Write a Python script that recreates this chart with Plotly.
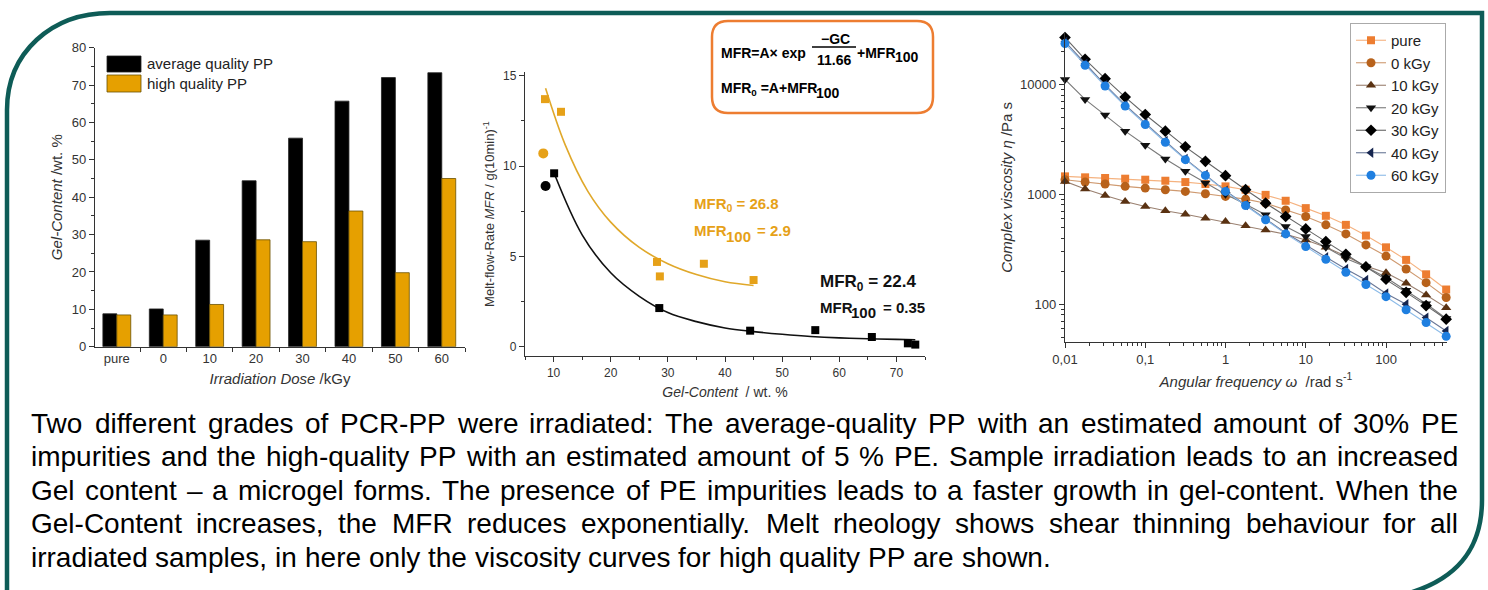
import plotly.graph_objects as go

W, H = 1488, 590
FONT = "Liberation Sans, Arial, sans-serif"

# ---------------- data ----------------
doses = ["pure", "0", "10", "20", "30", "40", "50", "60"]
gel_average = [8.8, 10.1, 28.5, 44.4, 55.8, 65.7, 72.0, 73.3]
gel_high = [8.5, 8.5, 11.3, 28.6, 28.1, 36.3, 19.8, 45.0]

mfr_avg_gc = [10.1, 28.5, 44.4, 55.8, 65.7, 72.0, 73.3]
mfr_avg = [9.6, 2.15, 0.9, 0.93, 0.55, 0.2, 0.13]
mfr_avg_pure_gc = [8.6]
mfr_avg_pure = [8.9]
mfr_high_gc = [8.5, 11.3, 28.1, 28.6, 36.3, 45.0]
mfr_high = [13.7, 13.0, 4.7, 3.9, 4.6, 3.7]
mfr_high_pure_gc = [8.2]
mfr_high_pure = [10.7]
fit_avg_gc = [10.1, 15, 20, 25, 30, 35, 40, 45, 50, 55, 60, 65, 70, 73.3]
fit_avg = [9.6, 6.2, 4.1, 2.8, 1.9, 1.4, 1.05, 0.85, 0.7, 0.58, 0.5, 0.45, 0.42, 0.4]
fit_high_gc = [8.6, 12, 16, 20, 25, 30, 35, 40, 45]
fit_high = [14.3, 11.2, 8.6, 6.9, 5.5, 4.6, 4.0, 3.6, 3.4]

freq = [0.01, 0.0178, 0.0316, 0.0562, 0.1, 0.178, 0.316, 0.562, 1, 1.78,
        3.16, 5.62, 10, 17.8, 31.6, 56.2, 100, 178, 316, 562]
visc_pure = [1455, 1426, 1406, 1386, 1357, 1328, 1291, 1239, 1180, 1100,
             988, 873, 748, 637, 527, 421, 329, 253, 187, 136]
visc_0 = [1357, 1291, 1239, 1180, 1138, 1100, 1062, 1011, 956, 904,
          830, 721, 628, 527, 436, 346, 274, 209, 157, 115]
visc_10 = [1310, 1115, 976, 860, 775, 707, 659, 606, 565, 516,
           474, 433, 384, 329, 274, 222, 193, 155, 121, 93]
visc_20 = [11100, 7300, 5250, 3750, 2795, 2095, 1617, 1265, 1000, 810,
           650, 508, 412, 329, 261, 219, 175, 134, 101, 74]
visc_30 = [26700, 16900, 11270, 7660, 5320, 3750, 2700, 1995, 1475, 1100,
           830, 628, 484, 371, 284, 219, 169, 128, 97, 73]
visc_40 = [24500, 15400, 9900, 6500, 4420, 3050, 2100, 1510, 1075, 800,
           600, 445, 345, 267, 209, 166, 125, 100, 75.5, 57]
visc_60 = [23500, 14900, 9660, 6340, 4310, 2975, 2065, 1485, 1062, 791,
           585, 436, 334, 256, 195, 151, 117, 89, 68, 51]

para_lines = [
    "Two different grades of PCR-PP were irradiated: The average-quality PP with an estimated amount of 30% PE",
    "impurities and the high-quality PP with an estimated amount of 5 % PE. Sample irradiation leads to an increased",
    "Gel content \u2013 a microgel forms. The presence of PE impurities leads to a faster growth in gel-content. When the",
    "Gel-Content increases, the MFR reduces exponentially. Melt rheology shows shear thinning behaviour for all",
    "irradiated samples, in here only the viscosity curves for high quality PP are shown.",
]

# ---------------- helpers ----------------
def X(p):
    return p / W


def Y(p):
    return 1 - p / H


HELV = {' ': 278, '!': 278, '%': 889, '(': 333, ')': 333, ',': 278, '-': 333, '.': 278,
        ':': 278, '\u2013': 556, 'A': 667, 'B': 667, 'C': 722, 'D': 722, 'E': 667, 'F': 611,
        'G': 778, 'H': 722, 'I': 278, 'J': 500, 'K': 667, 'L': 556, 'M': 833, 'N': 722,
        'O': 778, 'P': 667, 'Q': 778, 'R': 722, 'S': 667, 'T': 611, 'U': 722, 'V': 667,
        'W': 944, 'X': 667, 'Y': 667, 'Z': 611, 'a': 556, 'b': 556, 'c': 500, 'd': 556,
        'e': 556, 'f': 278, 'g': 556, 'h': 556, 'i': 222, 'j': 222, 'k': 500, 'l': 222,
        'm': 833, 'n': 556, 'o': 556, 'p': 556, 'q': 556, 'r': 333, 's': 500, 't': 278,
        'u': 556, 'v': 500, 'w': 722, 'x': 500, 'y': 500, 'z': 500}


def tw(s, size):
    return sum(HELV.get(c, 556) for c in s) * size / 1000.0


def rrect(x0, y0, x1, y1, r):
    return (f"M{X(x0+r)},{Y(y0)} L{X(x1-r)},{Y(y0)} Q{X(x1)},{Y(y0)} {X(x1)},{Y(y0+r)} "
            f"L{X(x1)},{Y(y1-r)} Q{X(x1)},{Y(y1)} {X(x1-r)},{Y(y1)} "
            f"L{X(x0+r)},{Y(y1)} Q{X(x0)},{Y(y1)} {X(x0)},{Y(y1-r)} "
            f"L{X(x0)},{Y(y0+r)} Q{X(x0)},{Y(y0)} {X(x0+r)},{Y(y0)} Z")


fig = go.Figure()

# ---------------- left: bars ----------------
fig.add_trace(go.Bar(x=doses, y=gel_average, name="average quality PP", marker_color="#000000",
                     marker_line=dict(color="#222", width=0.8), xaxis="x", yaxis="y", showlegend=False))
fig.add_trace(go.Bar(x=doses, y=gel_high, name="high quality PP", marker_color="#e6a000",
                     marker_line=dict(color="#6b5000", width=0.8), xaxis="x", yaxis="y", showlegend=False))

# ---------------- middle: MFR ----------------
ORG = "#e6a118"
fig.add_trace(go.Scatter(x=fit_high_gc, y=fit_high, mode="lines", line_shape="spline",
                         line=dict(color="#e0a82a", width=1.6), xaxis="x2", yaxis="y2", showlegend=False))
fig.add_trace(go.Scatter(x=fit_avg_gc, y=fit_avg, mode="lines", line_shape="spline",
                         line=dict(color="#111", width=1.6), xaxis="x2", yaxis="y2", showlegend=False))
fig.add_trace(go.Scatter(x=mfr_high_gc, y=mfr_high, mode="markers", marker=dict(symbol="square", size=8, color=ORG),
                         xaxis="x2", yaxis="y2", showlegend=False, cliponaxis=False))
fig.add_trace(go.Scatter(x=mfr_high_pure_gc, y=mfr_high_pure, mode="markers", marker=dict(symbol="circle", size=10, color=ORG),
                         xaxis="x2", yaxis="y2", showlegend=False, cliponaxis=False))
fig.add_trace(go.Scatter(x=mfr_avg_gc, y=mfr_avg, mode="markers", marker=dict(symbol="square", size=8, color="#000"),
                         xaxis="x2", yaxis="y2", showlegend=False, cliponaxis=False))
fig.add_trace(go.Scatter(x=mfr_avg_pure_gc, y=mfr_avg_pure, mode="markers", marker=dict(symbol="circle", size=10, color="#000"),
                         xaxis="x2", yaxis="y2", showlegend=False, cliponaxis=False))

# ---------------- right: viscosity ----------------
series = [
    ("pure", visc_pure, "square", "#ed7d31", "#f5b27f", 8),
    ("0 kGy", visc_0, "circle", "#b8621b", "#cf9a70", 9),
    ("10 kGy", visc_10, "triangle-up", "#5a3212", "#9a8070", 9),
    ("20 kGy", visc_20, "triangle-down", "#111111", "#7a7a7a", 9),
    ("30 kGy", visc_30, "diamond", "#000000", "#666666", 9),
    ("40 kGy", visc_40, "triangle-left", "#16264f", "#6a7898", 9),
    ("60 kGy", visc_60, "circle", "#1f7fe0", "#8cbbe8", 9),
]
for name, vals, sym, mc, lc, ms in series:
    fig.add_trace(go.Scatter(x=freq, y=vals, name=name, mode="lines+markers",
                             line=dict(color=lc, width=1.1),
                             marker=dict(symbol=sym, size=ms, color=mc),
                             xaxis="x3", yaxis="y3", cliponaxis=False, showlegend=True))

# ---------------- axes ----------------
AX = dict(showline=True, linecolor="#333", linewidth=1.3, ticks="outside", ticklen=5, tickwidth=1.2,
          tickcolor="#333", showgrid=False, zeroline=False, automargin=False,
          tickfont=dict(family=FONT, size=13, color="#333"))

def ax(**kw):
    d = dict(AX)
    d.update(kw)
    return d

minor_log = [m * 10 ** e for e in range(-2, 5) for m in range(2, 10)]

fig.update_layout(
    width=W, height=H, margin=dict(l=0, r=0, t=0, b=0),
    paper_bgcolor="white", plot_bgcolor="white",
    font=dict(family=FONT, color="#222"),
    barmode="group", bargap=0.4, bargroupgap=0,
    xaxis=ax(domain=[X(95), X(465)], anchor="y", type="category", range=[-0.47, 7.5],
             tickson="boundaries", ticklen=4,
             title=dict(text="<i>Irradiation Dose</i> /kGy", font=dict(family=FONT, size=15, color="#333"), standoff=8)),
    yaxis=ax(domain=[Y(346.7), Y(47.7)], anchor="x", range=[0, 80], dtick=10,
             minor=dict(ticks="outside", ticklen=3, dtick=5, tickcolor="#333"),
             title=dict(text="<i>Gel-Content</i> /wt. %", font=dict(family=FONT, size=15, color="#333"), standoff=5)),
    xaxis2=ax(domain=[X(525), X(925)], anchor="y2", range=[5, 75], tick0=10, dtick=10,
              tickfont=dict(family=FONT, size=12, color="#333"),
              minor=dict(ticks="outside", ticklen=3, dtick=5, tick0=5, tickcolor="#333"),
              title=dict(text="<i>Gel-Content</i>  / wt. %", font=dict(family=FONT, size=14, color="#333"), standoff=8)),
    yaxis2=ax(domain=[Y(356), Y(72)], anchor="x2", range=[-0.5, 15.2], tickvals=[0, 5, 10, 15],
              tickfont=dict(family=FONT, size=12, color="#333"),
              minor=dict(ticks="outside", ticklen=3, dtick=2.5, tick0=0, tickcolor="#333"),
              title=dict(text="Melt-flow-Rate <i>MFR</i> / g(10min)<sup>-1</sup>", font=dict(family=FONT, size=13, color="#333"), standoff=5)),
    xaxis3=ax(domain=[X(1065), X(1447)], anchor="y3", type="log", range=[-2, 2.76],
              tickvals=[0.01, 0.1, 1, 10, 100], ticktext=["0,01", "0,1", "1", "10", "100"],
              minor=dict(ticks="outside", ticklen=3, tickvals=minor_log, tickcolor="#333"),
              title=dict(text="<i>Angular frequency \u03c9</i>  /rad s<sup>-1</sup>", font=dict(family=FONT, size=15, color="#333"), standoff=10)),
    yaxis3=ax(domain=[Y(342), Y(32.7)], anchor="x3", type="log", range=[1.656, 4.47],
              tickvals=[100, 1000, 10000], ticktext=["100", "1000", "10000"],
              minor=dict(ticks="outside", ticklen=3, tickvals=minor_log, tickcolor="#333"),
              title=dict(text="<i>Complex viscosity \u03b7</i> /Pa s", font=dict(family=FONT, size=15, color="#333"), standoff=3)),
    legend=dict(x=X(1350), y=Y(23), xanchor="left", yanchor="top", bgcolor="white",
                bordercolor="#aaaaaa", borderwidth=1, tracegroupgap=0,
                font=dict(family=FONT, size=15, color="#222")),
)

# ---------------- shapes ----------------
shapes = []
TEAL = "#0e5c57"
frame = (f"M{X(7)},{Y(600)} L{X(7)},{Y(110)} C{X(7)},{Y(52)} {X(52)},{Y(13)} {X(110)},{Y(13)} "
         f"L{X(1482)},{Y(13)} L{X(1482)},{Y(500)} C{X(1482)},{Y(548)} {X(1458)},{Y(582)} {X(1398)},{Y(596)}")
shapes.append(dict(type="path", xref="paper", yref="paper", path=frame,
                   line=dict(color=TEAL, width=4.5), layer="above"))
shapes.append(dict(type="path", xref="paper", yref="paper", path=rrect(712, 21, 933, 113, 16),
                   line=dict(color="#ed7d31", width=2.5), fillcolor="white", layer="below"))
shapes.append(dict(type="line", xref="paper", yref="paper", x0=X(812), x1=X(856), y0=Y(47), y1=Y(47),
                   line=dict(color="#000", width=1.5)))
# left legend keys
shapes.append(dict(type="rect", xref="paper", yref="paper", x0=X(107), x1=X(141), y0=Y(72), y1=Y(56),
                   fillcolor="#000", line=dict(color="#222", width=0.8)))
shapes.append(dict(type="rect", xref="paper", yref="paper", x0=X(107), x1=X(141), y0=Y(92), y1=Y(75),
                   fillcolor="#e6a000", line=dict(color="#6b5000", width=0.8)))

# ---------------- annotations ----------------
ann = []

def txt(x, y, s, size, color="#000", anchor="left", bold=False):
    if bold:
        s = "<b>" + s + "</b>"
    ann.append(dict(x=X(x), y=Y(y), xref="paper", yref="paper", text=s, showarrow=False,
                    xanchor=anchor, yanchor="middle", font=dict(family=FONT, size=size, color=color)))

# left legend text
txt(145, 64, "average quality PP", 15, "#222")
txt(145, 83, "high quality PP", 15, "#222")

# formula box
txt(719, 53, "MFR=A\u00d7 exp", 14, bold=True)
txt(835, 39, "\u2212GC", 14, anchor="center", bold=True)
txt(834, 60, "11.66", 14, anchor="center", bold=True)
txt(855, 53, "+MFR", 14, bold=True)
txt(893, 57, "100", 14, bold=True)
txt(719, 89, "MFR<sub>0</sub> =A+MFR", 14, bold=True)
txt(814, 93, "100", 14, bold=True)

# middle annotations
txt(692, 205, "MFR<sub>0</sub> = 26.8", 15, ORG, bold=True)
txt(692, 231, "MFR", 15, ORG, bold=True)
txt(724, 236, "100", 15, ORG, bold=True)
txt(755, 231, "= 2.9", 15, ORG, bold=True)
txt(818, 283, "MFR<sub>0</sub> = 22.4", 17, "#111", bold=True)
txt(818, 307, "MFR", 15, "#111", bold=True)
txt(849, 312, "100", 15, "#111", bold=True)
txt(881, 307, "= 0.35", 15, "#111", bold=True)

# paragraph (justified word by word)
PSIZE = 28
LEFT, RIGHT = 30, 1457
line_y = [423, 456.5, 490, 523.5, 557]
for i, line in enumerate(para_lines):
    words = line.split(" ")
    widths = [tw(w, PSIZE) for w in words]
    if i < len(para_lines) - 1:
        gap = (RIGHT - LEFT - sum(widths)) / (len(words) - 1)
    else:
        gap = tw(" ", PSIZE)
    x = LEFT
    for w, wd in zip(words, widths):
        ann.append(dict(x=X(x), y=Y(line_y[i]), xref="paper", yref="paper", text=w, showarrow=False,
                        xanchor="left", yanchor="middle", borderpad=0,
                        font=dict(family=FONT, size=PSIZE, color="#000")))
        x += wd + gap

fig.update_layout(shapes=shapes, annotations=ann)

fig.write_html("out.html", config={"displayModeBar": False},
               post_script="document.body.style.margin='0';")
